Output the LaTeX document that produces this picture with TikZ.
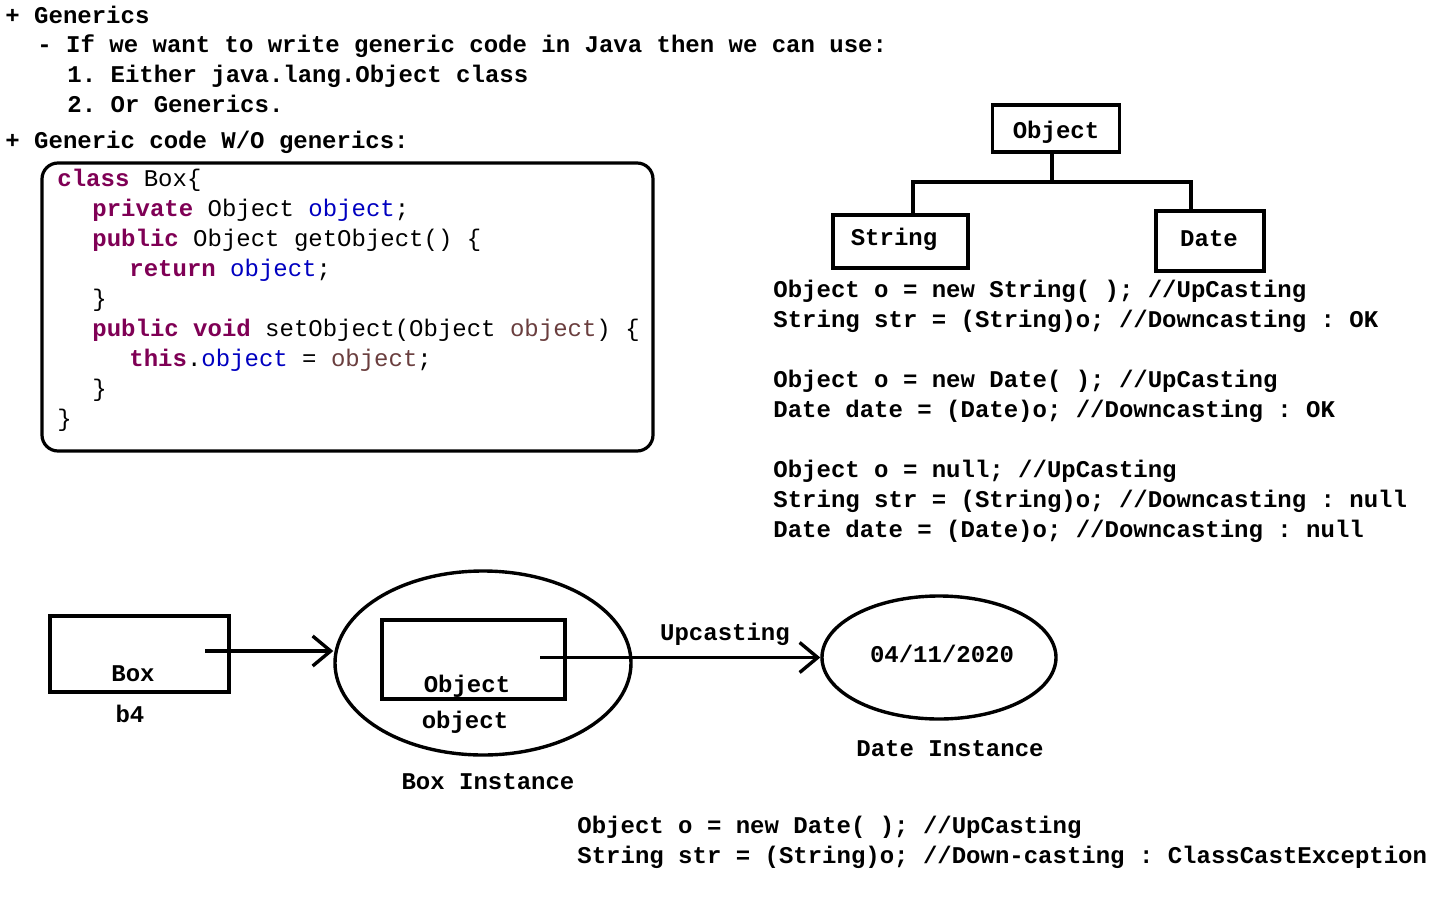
\documentclass[tikz,border=0pt]{standalone}
\usepackage{fontspec}
\setmonofont{Liberation Mono}
\usepackage{xcolor}
\usetikzlibrary{shapes.geometric,arrows.meta,positioning}
\definecolor{kwcol}{HTML}{7F0055}
\definecolor{fldcol}{HTML}{0000C0}
\definecolor{prmcol}{HTML}{6A3E3E}
\newcommand{\kw}[1]{\textbf{\color{kwcol}#1}}
\newcommand{\fld}[1]{{\color{fldcol}#1}}
\newcommand{\prm}[1]{{\color{prmcol}#1}}

\begin{document}
\begin{tikzpicture}[x=.5pt,y=-.5pt,
  every node/.style={font=\ttfamily\bfseries\fontsize{12}{14}\selectfont,inner sep=0pt},
  txt/.style={anchor=base west},
  lbl/.style={anchor=base},
  code/.style={anchor=base west,font=\ttfamily\mdseries\fontsize{12}{14}\selectfont},
  classbox/.style={draw,line width=1.7pt},
  inst/.style={draw,ellipse,line width=1.7pt},
  ptr/.style={line width=1.7pt,-{Straight Barb[length=9pt,width=15pt,line width=1.7pt]}}]
  \useasboundingbox (0,0) rectangle (1440,900);

  % notes
  \node[txt] (h1) at (5,23) {+ Generics};
  \node[txt] (h2) at (37,52) {- If we want to write generic code in Java then we can use:};
  \node[txt] (h3) at (67,82) {1. Either java.lang.Object class};
  \node[txt] (h4) at (67,112) {2. Or Generics.};
  \node[txt] (h5) at (5,148) {+ Generic code W/O generics:};

  % code
  \draw[line width=1.6pt,rounded corners=8pt] (42,163) rectangle (653,451);
  \node[code] (c1) at (57,186) {\kw{class} Box\{};
  \node[code] (c2) at (92,216) {\kw{private} Object \fld{object};};
  \node[code] (c3) at (92,246) {\kw{public} Object getObject() \{};
  \node[code] (c4) at (129,276) {\kw{return} \fld{object};};
  \node[code] (c5) at (92,306) {\}};
  \node[code] (c6) at (92,336) {\kw{public} \kw{void} setObject(Object \prm{object}) \{};
  \node[code] (c7) at (129,366) {\kw{this}.\fld{object} = \prm{object};};
  \node[code] (c8) at (92,396) {\}};
  \node[code] (c9) at (57,426) {\}};

  % hierarchy
  \node[classbox,minimum width=63.5pt,minimum height=23.5pt] (obj) at (1056,128.5) {};
  \node[lbl] (objtxt) at (1056,138) {Object};
  \node[classbox,minimum width=67.5pt,minimum height=26.5pt] (str) at (900.5,241.5) {};
  \node[lbl] (strtxt) at (894,245) {String};
  \node[classbox,minimum width=54pt,minimum height=30pt] (dat) at (1210,241) {};
  \node[lbl] (dattxt) at (1209,246) {Date};
  \coordinate (fork) at (1052,182);
  \draw[line width=2pt] (obj.south-|fork) -- (fork);
  \draw[line width=2pt] ([xshift=6pt]str.north) |- (fork) -| ([xshift=-9.5pt]dat.north);

  \foreach \n/\y/\t in {1/297/{Object o = new String( ); //UpCasting},
      2/327/{String str = (String)o; //Downcasting : OK},
      3/387/{Object o = new Date( ); //UpCasting},
      4/417/{Date date = (Date)o; //Downcasting : OK},
      5/477/{Object o = null; //UpCasting},
      6/507/{String str = (String)o; //Downcasting : null},
      7/537/{Date date = (Date)o; //Downcasting : null}}
    \node[txt] (cast\n) at (773,\y) {\t};

  % objects
  \node[classbox,minimum width=89.5pt,minimum height=38pt] (b4box) at (139.5,654) {};
  \node[lbl] (boxlbl) at (133,681) {Box};
  \node[lbl] (b4lbl) at (130,722) {b4};
  \node[inst,minimum width=148pt,minimum height=92pt] (boxinst) at (483,663) {};
  \node[classbox,minimum width=91.5pt,minimum height=39.5pt] (objbox) at (473.5,659.5) {};
  \node[lbl] (objlbl) at (467,692) {Object};
  \node[lbl] (objname) at (465,728) {object};
  \node[lbl] (boxinstlbl) at (488,789) {Box Instance};
  \node[inst,minimum width=117pt,minimum height=61.5pt] (datei) at (939,657.5) {};
  \node[lbl] (datetxt) at (942,662) {04/11/2020};
  \node[lbl] (dateilbl) at (950,756) {Date Instance};
  \coordinate (b4ref) at (205,651);
  \coordinate (objref) at (540,657.5);
  \draw[ptr] (b4ref) -- (b4ref-|boxinst.west);
  \draw[ptr] (objref) -- node[pos=.66,above=5pt] (upc) {Upcasting} (datei.west);

  \node[txt] (ex1) at (577,833) {Object o = new Date( ); //UpCasting};
  \node[txt] (ex2) at (577,863) {String str = (String)o; //Down-casting : ClassCastException};
\end{tikzpicture}
\end{document}
